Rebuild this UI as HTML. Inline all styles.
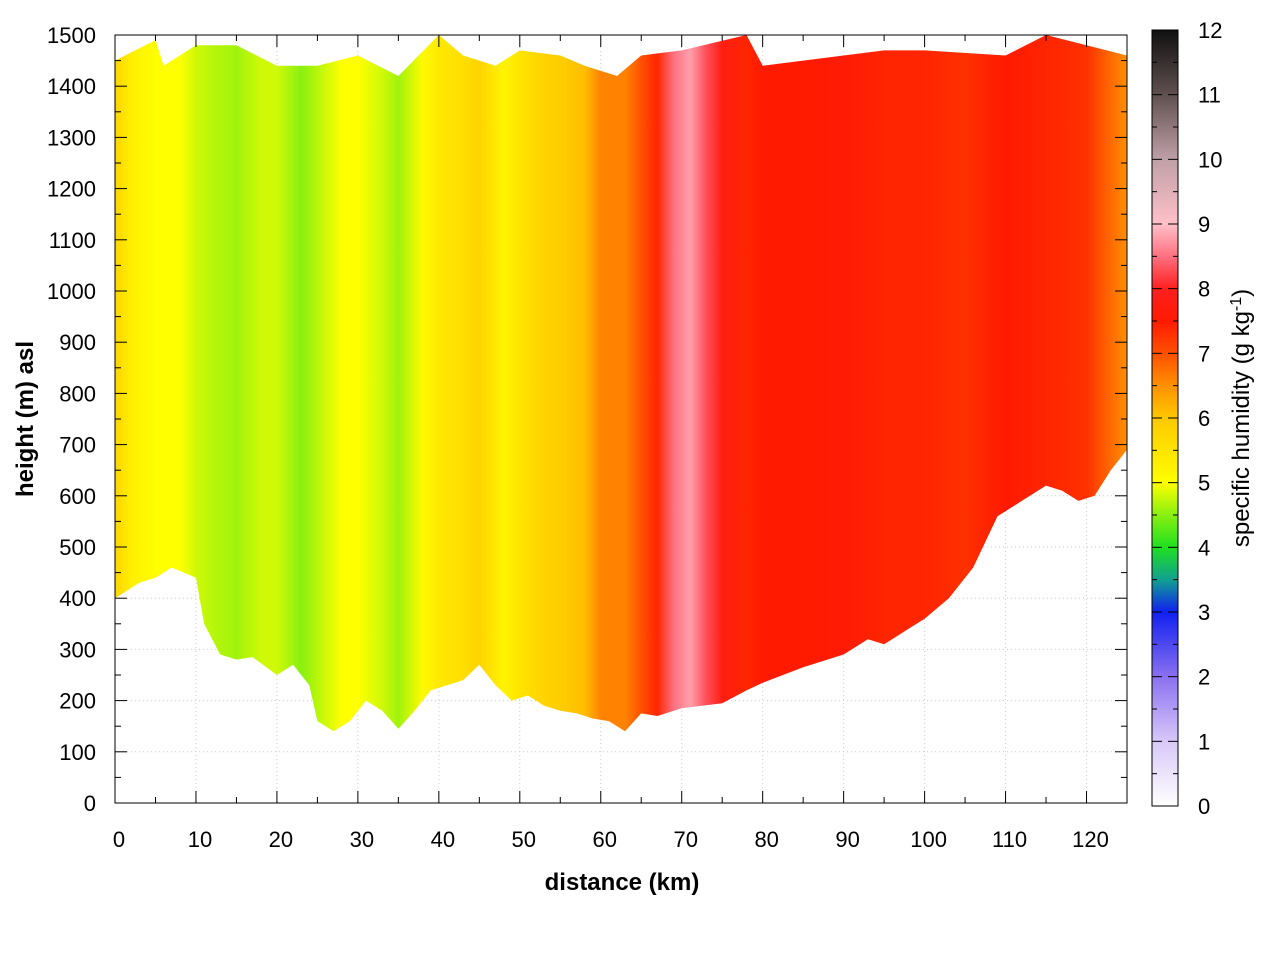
<!DOCTYPE html>
<html><head><meta charset="utf-8"><style>
body{margin:0;background:#fff;}
svg text{font-family:"Liberation Sans",sans-serif;}
</style></head><body>
<svg id="c" width="1280" height="960" xmlns="http://www.w3.org/2000/svg">
<defs>
<linearGradient id="field" x1="115" y1="0" x2="1127" y2="0" gradientUnits="userSpaceOnUse"></linearGradient>
<linearGradient id="cbar" x1="0" y1="806" x2="0" y2="30" gradientUnits="userSpaceOnUse"></linearGradient>
</defs>
<g id="grid"></g>
<path id="area" fill="url(#field)"/>
<rect x="115" y="35" width="1012" height="768" fill="none" stroke="#000" stroke-width="1"/>
<g id="axes"></g>
<rect x="1152" y="30" width="26" height="776" fill="url(#cbar)" stroke="#000"/>
<g id="cb"></g>
<text x="622" y="890" font-size="24" font-weight="bold" text-anchor="middle">distance (km)</text>
<text transform="translate(33,419) rotate(-90)" font-size="24" font-weight="bold" text-anchor="middle">height (m) asl</text>
<text transform="translate(1249,418) rotate(-90)" font-size="24" text-anchor="middle">specific humidity (g kg<tspan baseline-shift="super" font-size="16">-1</tspan>)</text>
</svg>
<script>
const distKm=[0,2,5,8,10,12,15,18,20,23,25,28,30,33,35,38,40,43,45,48,50,53,55,58,60,63,65,67,69,71,73,75,78,80,85,90,95,100,105,110,115,120,123,125];
const humidity=[5.8,5.3,5.0,5.0,4.8,4.7,4.6,4.8,4.8,4.5,4.7,5.0,5.0,4.8,4.6,5.1,5.4,5.6,5.8,5.2,5.5,5.8,5.9,6.1,6.6,6.6,7.0,7.4,8.5,8.8,8.3,7.8,7.4,7.5,7.5,7.6,7.4,7.4,7.3,7.5,7.4,7.3,6.8,6.5];
const groundKm=[0,3,5,7,10,11,13,15,17,20,22,24,25,27,29,31,33,35,37,39,41,43,45,47,49,51,53,55,57,59,61,63,65,67,70,75,78,80,85,90,93,95,98,100,103,106,109,112,115,117,119,121,123,125];
const groundM=[400,430,440,460,440,350,290,280,285,250,270,230,160,140,160,200,180,145,180,220,230,240,270,230,200,210,190,180,175,165,160,140,175,170,185,195,220,235,265,290,320,310,340,360,400,460,560,590,620,610,590,600,650,690];
const topKm=[0,5,6,10,15,20,25,30,35,40,43,47,50,55,58,62,65,70,78,80,90,95,100,110,115,120,125];
const topM=[1450,1490,1440,1480,1480,1440,1440,1460,1420,1500,1460,1440,1470,1460,1440,1420,1460,1470,1500,1440,1460,1470,1470,1460,1500,1480,1460];
const xTicks=[0,10,20,30,40,50,60,70,80,90,100,110,120];
const yTicks=[0,100,200,300,400,500,600,700,800,900,1000,1100,1200,1300,1400,1500];
const cbTicks=[0,1,2,3,4,5,6,7,8,9,10,11,12];
const cmapV=[0,1,2,3,3.5,4,4.5,5,6,6.5,7,7.5,8,8.5,9,10,11,12];
const cmapC=['#ffffff','#d8c8f8','#8a70f0','#1020f0','#10a090','#20e020','#88f010','#ffff00','#ffc800','#ff9000','#ff5000','#ff1a00','#ff2020','#ff7080','#ffc0c8','#c0a0a8','#605050','#101010'];
const NS='http://www.w3.org/2000/svg';
const X=k=>115+k*1012/125, Y=m=>803-m*768/1500, CY=v=>806-v*776/12;
function col(v){for(let i=0;i<cmapV.length-1;i++){if(v<=cmapV[i+1]){const t=(v-cmapV[i])/(cmapV[i+1]-cmapV[i]);const a=hex(cmapC[i]),b=hex(cmapC[i+1]);return 'rgb('+a.map((c,j)=>Math.round(c+(b[j]-c)*t)).join(',')+')';}}return cmapC[cmapC.length-1];}
function hex(h){return [1,3,5].map(i=>parseInt(h.substr(i,2),16));}
function mk(tag,attrs,parent){const e=document.createElementNS(NS,tag);for(const k in attrs)e.setAttribute(k,attrs[k]);parent.appendChild(e);return e;}
const fg=document.getElementById('field');
distKm.forEach((d,i)=>{mk('stop',{offset:(d/125).toFixed(4),'stop-color':col(humidity[i])},fg);});
const cg=document.getElementById('cbar');
cmapV.forEach((v,i)=>{mk('stop',{offset:(v/12).toFixed(4),'stop-color':cmapC[i]},cg);});
let p='M'+X(groundKm[0])+','+Y(groundM[0]);
groundKm.forEach((k,i)=>{p+=' L'+X(k).toFixed(1)+','+Y(groundM[i]).toFixed(1);});
for(let i=topKm.length-1;i>=0;i--){p+=' L'+X(topKm[i]).toFixed(1)+','+Y(topM[i]).toFixed(1);}
p+='Z';
document.getElementById('area').setAttribute('d',p);
const grid=document.getElementById('grid'),ax=document.getElementById('axes'),cb=document.getElementById('cb');
xTicks.forEach(k=>{const x=X(k);
 if(k>0){const g=mk('line',{x1:x,y1:35,x2:x,y2:803,stroke:'#ccc','stroke-dasharray':'1,3'},grid);}
 mk('line',{x1:x,y1:803,x2:x,y2:791,stroke:'#000'},ax);mk('line',{x1:x,y1:35,x2:x,y2:47,stroke:'#000'},ax);
 const xm=X(k+5);if(k+5<125){mk('line',{x1:xm,y1:803,x2:xm,y2:797,stroke:'#000'},ax);mk('line',{x1:xm,y1:35,x2:xm,y2:41,stroke:'#000'},ax);}
 const t=mk('text',{x:x+4,y:847,'font-size':22,'text-anchor':'middle'},ax);t.textContent=k;
 });
yTicks.forEach(m=>{const y=Y(m);
 if(m>0&&m<1500){const g=mk('line',{x1:115,y1:y,x2:1127,y2:y,stroke:'#ccc','stroke-dasharray':'1,3'},grid);}
 mk('line',{x1:115,y1:y,x2:127,y2:y,stroke:'#000'},ax);mk('line',{x1:1127,y1:y,x2:1115,y2:y,stroke:'#000'},ax);
 if(m<1500){const ym=Y(m+50);mk('line',{x1:115,y1:ym,x2:121,y2:ym,stroke:'#000'},ax);mk('line',{x1:1127,y1:ym,x2:1121,y2:ym,stroke:'#000'},ax);}
 const t=mk('text',{x:96,y:y+8,'font-size':22,'text-anchor':'end'},ax);t.textContent=m;
 });
cbTicks.forEach(v=>{const y=CY(v);
 mk('line',{x1:1152,y1:y,x2:1162,y2:y,stroke:'#000'},cb);mk('line',{x1:1178,y1:y,x2:1168,y2:y,stroke:'#000'},cb);
 if(v<12){const ym=CY(v+0.5);mk('line',{x1:1152,y1:ym,x2:1157,y2:ym,stroke:'#000'},cb);mk('line',{x1:1178,y1:ym,x2:1173,y2:ym,stroke:'#000'},cb);}
 const t=mk('text',{x:1198,y:y+8,'font-size':22},cb);t.textContent=v;
 });
</script>
</body></html>
